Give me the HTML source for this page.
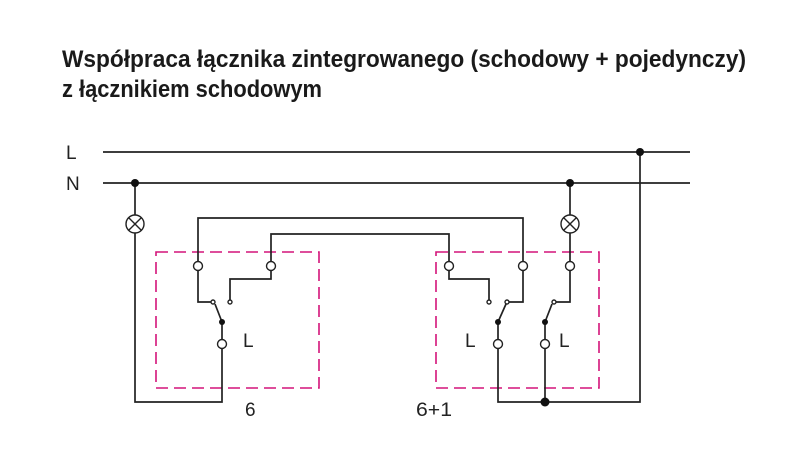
<!DOCTYPE html>
<html><head><meta charset="utf-8"><style>body{margin:0;background:#fff}svg{display:block}</style></head>
<body>
<svg width="800" height="450" viewBox="0 0 800 450" xmlns="http://www.w3.org/2000/svg">
<rect width="800" height="450" fill="#fff"/>
<g font-family="Liberation Sans, sans-serif" font-weight="bold" font-size="24" fill="#1a1a1a">
<text x="62" y="67" textLength="684" lengthAdjust="spacingAndGlyphs">Współpraca łącznika zintegrowanego (schodowy + pojedynczy)</text>
<text x="62" y="97" textLength="260" lengthAdjust="spacingAndGlyphs">z łącznikiem schodowym</text>
</g>
<g font-family="Liberation Sans, sans-serif" font-size="19" fill="#222">
<text x="66" y="159">L</text>
<text x="66" y="190">N</text>
<text x="243" y="347">L</text>
<text x="465" y="347">L</text>
<text x="559" y="347">L</text>
<text x="245" y="416">6</text>
<text x="416" y="416" textLength="36" lengthAdjust="spacingAndGlyphs">6+1</text>
</g>
<g fill="none" stroke="#d4147a" stroke-width="1.6" stroke-dasharray="12,6">
<rect x="156" y="252" width="163" height="136"/>
<rect x="436" y="252" width="163" height="136"/>
</g>
<g fill="none" stroke="#222" stroke-width="1.7">
<line x1="103" y1="152" x2="690" y2="152"/>
<line x1="103" y1="183" x2="690" y2="183"/>
<polyline points="640,152 640,402 498,402 498,349"/>
<line x1="545" y1="349" x2="545" y2="402"/>
<polyline points="135,183 135,215"/>
<polyline points="135,233 135,402 222,402 222,349"/>
<polyline points="198,261 198,218 523,218 523,261"/>
<polyline points="271,261 271,234 449,234 449,261"/>
<polyline points="198,271 198,302 211,302"/>
<polyline points="271,271 271,279 230,279 230,300"/>
<line x1="222" y1="322" x2="222" y2="339"/>
<line x1="222" y1="322" x2="215" y2="304"/>
<polyline points="449,271 449,279 489,279 489,300"/>
<polyline points="523,271 523,302 509,302"/>
<line x1="498" y1="322" x2="498" y2="339"/>
<line x1="498" y1="322" x2="506" y2="304"/>
<polyline points="570,183 570,215"/>
<line x1="570" y1="233" x2="570" y2="261"/>
<polyline points="570,271 570,302 556,302"/>
<line x1="545" y1="322" x2="545" y2="339"/>
<line x1="545" y1="322" x2="552" y2="304"/>
</g>
<g fill="#fff" stroke="#222" stroke-width="1.4">
<circle cx="135" cy="224" r="9"/><circle cx="570" cy="224" r="9"/>
<circle cx="198" cy="266" r="4.5"/><circle cx="271" cy="266" r="4.5"/><circle cx="222" cy="344" r="4.5"/>
<circle cx="449" cy="266" r="4.5"/><circle cx="523" cy="266" r="4.5"/><circle cx="570" cy="266" r="4.5"/>
<circle cx="498" cy="344" r="4.5"/><circle cx="545" cy="344" r="4.5"/>
<circle cx="213" cy="302" r="2"/><circle cx="230" cy="302" r="2"/>
<circle cx="489" cy="302" r="2"/><circle cx="507" cy="302" r="2"/><circle cx="554" cy="302" r="2"/>
</g>
<g stroke="#222" stroke-width="1.4">
<line x1="128.6" y1="217.6" x2="141.4" y2="230.4"/><line x1="141.4" y1="217.6" x2="128.6" y2="230.4"/>
<line x1="563.6" y1="217.6" x2="576.4" y2="230.4"/><line x1="576.4" y1="217.6" x2="563.6" y2="230.4"/>
</g>
<g fill="#111">
<circle cx="135" cy="183" r="4"/><circle cx="570" cy="183" r="4"/><circle cx="640" cy="152" r="4"/>
<circle cx="545" cy="402" r="4.5"/>
<circle cx="222" cy="322" r="3"/><circle cx="498" cy="322" r="3"/><circle cx="545" cy="322" r="3"/>
</g>
</svg>
</body></html>
